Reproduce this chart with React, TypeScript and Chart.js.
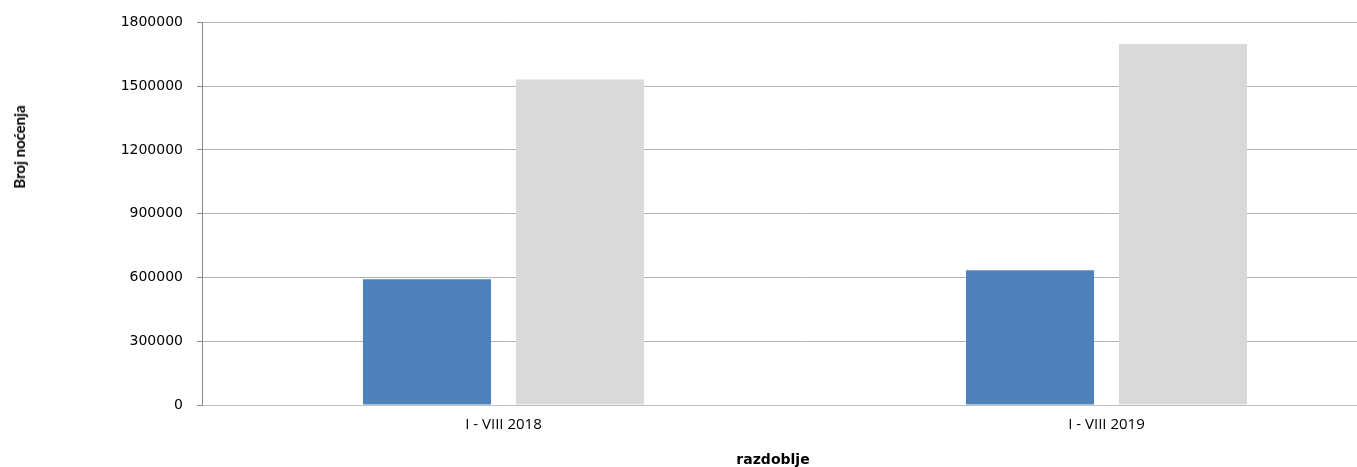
import React, { useEffect, useRef } from "react";
import { Chart, registerables } from "chart.js";

Chart.register(...registerables);

const categories = ["I - VIII 2018", "I - VIII 2019"];
const seriesBlue = [592000, 634000];
const seriesGrey = [1531000, 1698000];
const yTicks = [0, 300000, 600000, 900000, 1200000, 1500000, 1800000];
const yTitle = "Broj noćenja";
const xTitle = "razdoblje";

export default function App() {
  const ref = useRef<HTMLCanvasElement | null>(null);

  useEffect(() => {
    document.body.style.margin = "0";
    const canvas = ref.current;
    if (!canvas) return;
    const chart = new Chart(canvas, {
      type: "bar",
      data: {
        labels: categories,
        datasets: [
          {
            label: "A",
            data: seriesBlue,
            backgroundColor: "#4F81BD",
            borderWidth: 0,
            categoryPercentage: 0.5075,
            barPercentage: 0.837,
          },
          {
            label: "B",
            data: seriesGrey,
            backgroundColor: "#D9D9D9",
            borderWidth: 0,
            categoryPercentage: 0.5075,
            barPercentage: 0.837,
          },
        ],
      },
      options: {
        responsive: false,
        animation: false,
        devicePixelRatio: 1,
        layout: { padding: { top: 22, left: 0, right: 0, bottom: 0 } },
        plugins: {
          legend: { display: false },
          tooltip: { enabled: false },
        },
        scales: {
          x: {
            grid: { display: false, drawTicks: false },
            border: { display: true, color: "#BFBFBF", width: 1 },
            ticks: {
              color: "#000",
              padding: 11,
              font: { family: "'Open Sans'", size: 15 },
            },
            afterFit: (s: any) => {
              s.height = 62;
            },
          },
          y: {
            min: 0,
            max: 1800000,
            afterBuildTicks: (s: any) => {
              s.ticks = yTicks.map((v) => ({ value: v }));
            },
            grid: {
              color: "#B3B3B3",
              lineWidth: 1,
              tickLength: 5,
              tickColor: "#888888",
            },
            border: { display: true, color: "#888888", width: 1 },
            ticks: {
              color: "#000",
              padding: 14,
              font: { family: "'DejaVu Sans'", size: 14 },
              callback: (v: any) => String(v),
            },
            afterFit: (s: any) => {
              s.width = 202;
            },
          },
        },
      },
    });
    return () => chart.destroy();
  }, []);

  return (
    <div
      style={{
        position: "relative",
        width: 1357,
        height: 467,
        overflow: "hidden",
        background: "#fff",
      }}
    >
      <canvas ref={ref} width={1408} height={467} style={{ display: "block" }} />
      <div
        style={{
          position: "absolute",
          left: 19,
          top: 147,
          transform: "translate(-50%, -50%) rotate(-90deg)",
          whiteSpace: "nowrap",
          fontFamily: "Lato",
          fontWeight: 700,
          fontSize: 15,
          color: "#000",
        }}
      >
        {yTitle}
      </div>
      <div
        style={{
          position: "absolute",
          left: 773,
          top: 459,
          transform: "translate(-50%, -50%)",
          whiteSpace: "nowrap",
          fontFamily: "'DejaVu Sans'",
          fontWeight: 700,
          fontSize: 14,
          color: "#000",
        }}
      >
        {xTitle}
      </div>
    </div>
  );
}
